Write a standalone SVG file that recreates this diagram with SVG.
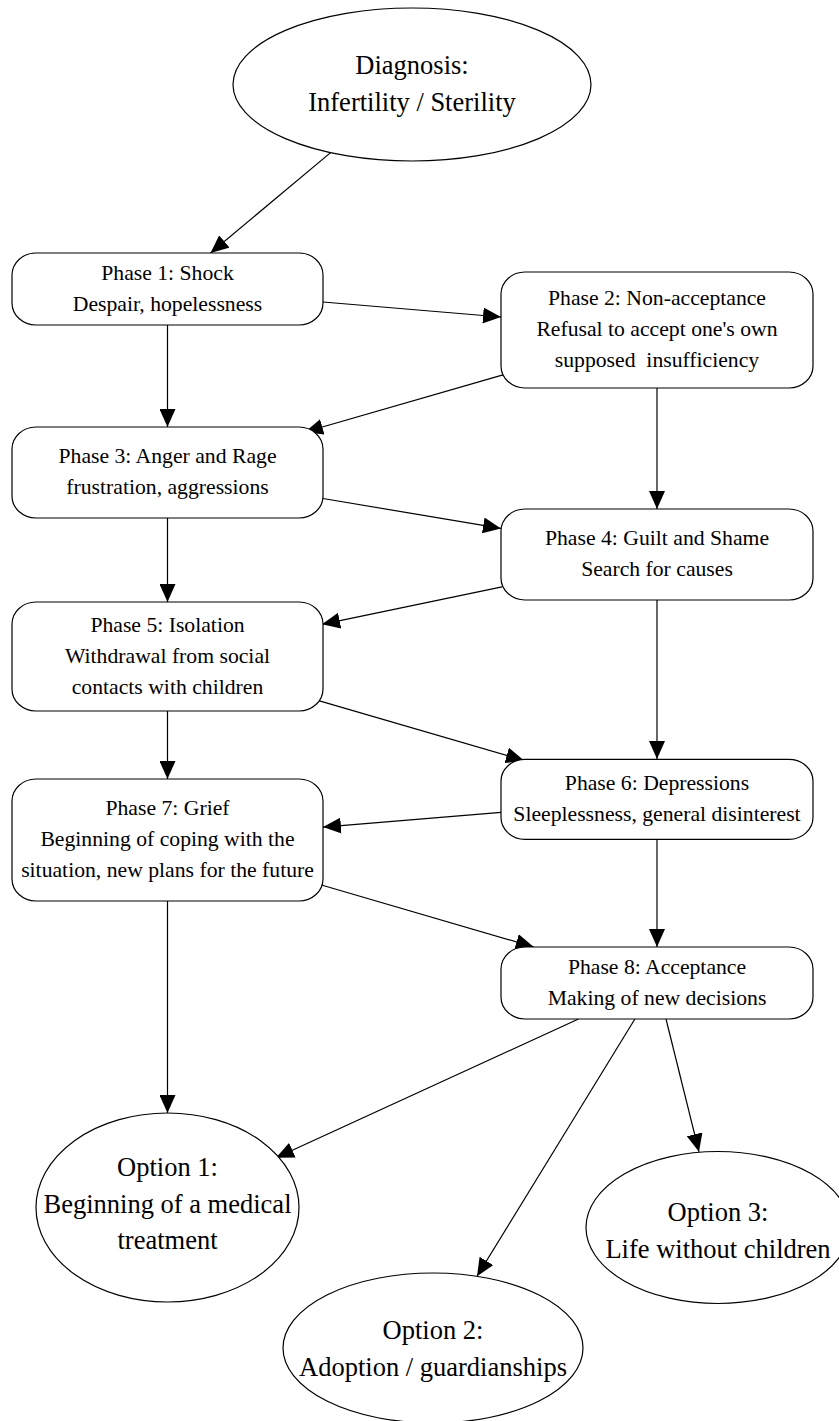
<svg xmlns="http://www.w3.org/2000/svg" width="839" height="1421" viewBox="0 0 839 1421">
<style>
.bg{fill:#fff}
.n{fill:#fff;stroke:#000;stroke-width:1.2}
.t{font-family:"Liberation Serif","Times New Roman",serif;font-size:21.7px;fill:#000;text-anchor:middle}
.te{font-family:"Liberation Serif","Times New Roman",serif;font-size:26.5px;fill:#000;text-anchor:middle}
.e{fill:none;stroke:#000;stroke-width:1.2;marker-end:url(#ah)}
</style>
<defs>
<marker id="ah" markerUnits="userSpaceOnUse" markerWidth="18" markerHeight="16" refX="18" refY="8" orient="auto">
<path d="M0,0 L18,8 L0,16 z" fill="#000"/>
</marker>
</defs>
<rect class="bg" x="0" y="0" width="839" height="1421"/>
<g id="connectors">
<line class="e" x1="330.6" y1="152.6" x2="210.5" y2="253"/>
<line class="e" x1="323" y1="302" x2="501" y2="317"/>
<line class="e" x1="167.5" y1="325" x2="167.5" y2="427"/>
<line class="e" x1="503" y1="374.8" x2="305" y2="432"/>
<line class="e" x1="657" y1="388" x2="657" y2="509"/>
<line class="e" x1="323" y1="498.5" x2="501" y2="528.4"/>
<line class="e" x1="167.5" y1="518" x2="167.5" y2="602"/>
<line class="e" x1="502" y1="586.8" x2="322" y2="624.3"/>
<line class="e" x1="657" y1="600" x2="657" y2="759"/>
<line class="e" x1="316" y1="699.8" x2="524" y2="760.5"/>
<line class="e" x1="167.5" y1="711" x2="167.5" y2="779"/>
<line class="e" x1="501" y1="812.3" x2="323" y2="827.1"/>
<line class="e" x1="657" y1="839.3" x2="657" y2="947"/>
<line class="e" x1="318" y1="884" x2="533.8" y2="947"/>
<line class="e" x1="167.5" y1="901" x2="167.5" y2="1113"/>
<line class="e" x1="578.5" y1="1019" x2="276" y2="1157.7"/>
<line class="e" x1="634.9" y1="1019" x2="477" y2="1276.3"/>
<line class="e" x1="666" y1="1019" x2="699" y2="1151.8"/>
</g>
<g id="diagnosis">
<ellipse class="n" cx="412" cy="84.5" rx="179" ry="76.5"/>
<text class="te" x="412" y="73.5">Diagnosis:</text>
<text class="te" x="412" y="110.5">Infertility / Sterility</text>
</g>
<g id="phase1">
<rect class="n" x="12" y="253" width="311" height="72" rx="24" ry="22"/>
<text class="t" x="167.5" y="280">Phase 1: Shock</text>
<text class="t" x="167.5" y="311">Despair, hopelessness</text>
</g>
<g id="phase2">
<rect class="n" x="501" y="272" width="312" height="116" rx="24" ry="22"/>
<text class="t" x="657" y="305">Phase 2: Non-acceptance</text>
<text class="t" x="657" y="336">Refusal to accept one's own</text>
<text class="t" x="657" y="367" xml:space="preserve">supposed  insufficiency</text>
</g>
<g id="phase3">
<rect class="n" x="12" y="427" width="311" height="91" rx="24" ry="22"/>
<text class="t" x="167.5" y="463">Phase 3: Anger and Rage</text>
<text class="t" x="167.5" y="494">frustration, aggressions</text>
</g>
<g id="phase4">
<rect class="n" x="501" y="509" width="312" height="91" rx="24" ry="22"/>
<text class="t" x="657" y="545">Phase 4: Guilt and Shame</text>
<text class="t" x="657" y="576">Search for causes</text>
</g>
<g id="phase5">
<rect class="n" x="12" y="602" width="311" height="109" rx="24" ry="22"/>
<text class="t" x="167.5" y="632">Phase 5: Isolation</text>
<text class="t" x="167.5" y="663">Withdrawal from social</text>
<text class="t" x="167.5" y="694">contacts with children</text>
</g>
<g id="phase6">
<rect class="n" x="501" y="759.3" width="312" height="80" rx="24" ry="22"/>
<text class="t" x="657" y="790">Phase 6: Depressions</text>
<text class="t" x="657" y="821">Sleeplessness, general disinterest</text>
</g>
<g id="phase7">
<rect class="n" x="12" y="779" width="311" height="122" rx="24" ry="22"/>
<text class="t" x="167.5" y="815">Phase 7: Grief</text>
<text class="t" x="167.5" y="846">Beginning of coping with the</text>
<text class="t" x="167.5" y="877">situation, new plans for the future</text>
</g>
<g id="phase8">
<rect class="n" x="501" y="947" width="312" height="72" rx="24" ry="22"/>
<text class="t" x="657" y="974">Phase 8: Acceptance</text>
<text class="t" x="657" y="1005">Making of new decisions</text>
</g>
<g id="option1">
<ellipse class="n" cx="167.5" cy="1207.5" rx="131.5" ry="94.5"/>
<text class="te" x="167.5" y="1176">Option 1:</text>
<text class="te" x="167.5" y="1213">Beginning of a medical</text>
<text class="te" x="167.5" y="1249">treatment</text>
</g>
<g id="option2">
<ellipse class="n" cx="433" cy="1348" rx="150" ry="75"/>
<text class="te" x="433" y="1338.5">Option 2:</text>
<text class="te" x="433" y="1375.5">Adoption / guardianships</text>
</g>
<g id="option3">
<ellipse class="n" cx="718" cy="1227.5" rx="132" ry="76"/>
<text class="te" x="718" y="1221">Option 3:</text>
<text class="te" x="718" y="1258">Life without children</text>
</g>
</svg>
